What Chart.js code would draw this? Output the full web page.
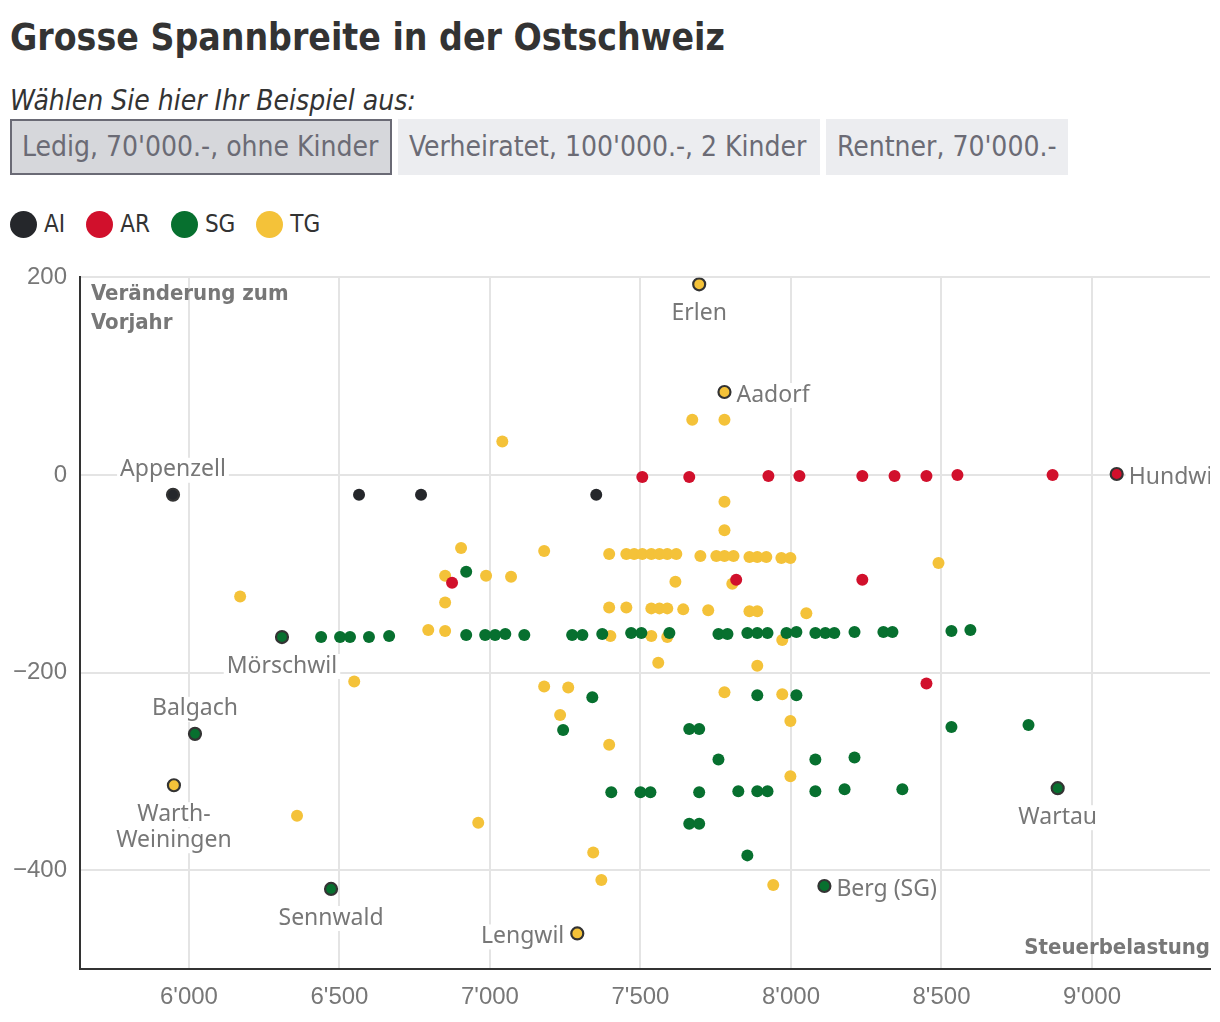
<!DOCTYPE html>
<html>
<head>
<meta charset="utf-8">
<script src="https://cdn.jsdelivr.net/npm/chart.js@4.4.1/dist/chart.umd.min.js"></script>
<style>
  body { margin: 0; background: #fff; width: 1220px; height: 1022px; overflow: hidden; position: relative;
         font-family: "Liberation Sans Narrow", "DejaVu Sans Condensed", sans-serif; }
  h1 { position: absolute; left: 10px; top: 14px; margin: 0; font-size: 37px; line-height: 48px; color: #333; font-weight: bold; }
  .sub { position: absolute; left: 10px; top: 84px; font-size: 28px; line-height: 34px; font-style: italic; color: #333; }
  .btns { position: absolute; left: 10px; top: 119px; }
  .btn { position: absolute; top: 0; height: 56px; box-sizing: border-box; padding-left: 11px; background: #ecedf0;
         color: #6b6b75; font-size: 28px; line-height: 56px; white-space: nowrap; }
  .btn.sel { background: #d6d7db; border: 2px solid #6a6a75; line-height: 52px; padding-left: 10px; }
  #legend { position: absolute; left: 10px; top: 210px; display: flex; align-items: center; }
  .item { display: flex; align-items: center; margin-right: 21px; font-size: 24px; color: #333; }
  .dot { width: 27px; height: 27px; border-radius: 50%; margin-right: 7px; }
  .box { position: absolute; left: 0; top: 250px; width: 1220px; height: 772px; }
</style>
</head>
<body>
<h1>Grosse Spannbreite in der Ostschweiz</h1>
<div class="sub">Wählen Sie hier Ihr Beispiel aus:</div>
<div class="btns">
  <div class="btn sel" style="left:0;width:382px">Ledig, 70'000.-, ohne Kinder</div>
  <div class="btn" style="left:388px;width:422px">Verheiratet, 100'000.-, 2 Kinder</div>
  <div class="btn" style="left:816px;width:242px">Rentner, 70'000.-</div>
</div>
<div id="legend"></div>
<div class="box"><canvas id="chart"></canvas></div>
<script>
// Gemeinden je Kanton: Steuerbelastung (x) und Veränderung zum Vorjahr (y)
// die ersten Punkte jeder Reihe sind beschriftet (Namen in *Names)
var cantons = ['AI', 'AR', 'SG', 'TG'];
var colors = ['#25272b', '#d1102c', '#07702f', '#f4c239'];

var aiX = [5947, 6565, 6771, 7353];
var aiY = [-20, -20, -20, -20];
var aiNames = ['Appenzell'];

var arX = [9082, 7506, 7662, 7925, 8028, 8237, 8344, 8450, 8553, 8869, 6874, 7818, 8237, 8450];
var arY = [1, -2, -2, -1, -1, -1, -1, -1, 0, 0, -109, -106, -106, -211];
var arNames = ['Hundwil'];

var sgX = [6309, 6020, 6472, 8111, 8886,
  6439, 6502, 6535, 6598, 6665, 6921, 6984, 7017, 7051, 7114, 7273, 7307, 7373, 7469, 7503, 7596,
  7759, 7789, 7855, 7888, 7922, 7985, 8018, 8081, 8114, 8144, 8211, 8307, 8337, 8533, 8596,
  6921, 7340, 7243, 7662, 7695, 7759, 8081, 8211, 7888, 8018, 8533, 8789,
  7403, 7500, 7533, 7695, 7825, 7888, 7922, 8081, 8178, 8370, 7662, 7695, 7855];
var sgY = [-164, -262, -419, -416, -317,
  -164, -164, -164, -164, -163, -162, -162, -162, -161, -162, -162, -162, -161, -160, -160, -160,
  -161, -161, -160, -160, -160, -160, -159, -160, -160, -160, -159, -159, -159, -158, -157,
  -98, -225, -258, -257, -257, -288, -288, -286, -223, -223, -255, -253,
  -321, -321, -321, -321, -320, -320, -320, -320, -318, -318, -353, -353, -385];
var sgNames = ['Mörschwil', 'Balgach', 'Sennwald', 'Berg (SG)', 'Wartau'];

var tgX = [7695, 7779, 7290, 5950,
  7672, 7779, 7041, 7779, 7779, 6904, 7180,
  7396, 7453, 7479, 7506, 7536, 7563, 7589, 7619, 7699, 7752, 7779, 7809, 7862, 7888, 7918, 7968, 7998,
  8490, 6851, 6987, 7070, 7616, 7805, 6851, 6170, 6795, 6851,
  7396, 7453, 7536, 7563, 7589, 7642, 7725, 7862, 7888, 8051,
  7400, 7536, 7589, 7971, 7559, 7888, 6549, 7180, 7260, 7233, 7396, 7779, 7971, 7998, 7998,
  6961, 7343, 7370, 7941, 6359];
var tgY = [193, 84, -464, -314,
  56, 56, 34, -27, -56, -74, -77,
  -80, -80, -80, -80, -80, -80, -80, -80, -82, -82, -82, -82, -83, -83, -83, -84, -84,
  -89, -102, -102, -103, -108, -110, -129, -123, -157, -158,
  -134, -134, -135, -135, -135, -136, -137, -138, -138, -140,
  -163, -163, -164, -167, -190, -193, -209, -214, -215, -243, -273, -220, -222, -249, -305,
  -352, -382, -410, -415, -345];
var tgNames = ['Erlen', 'Aadorf', 'Lengwil', 'Warth-\nWeiningen'];

var xTicks = [6000, 6500, 7000, 7500, 8000, 8500, 9000];
var yTicks = [200, 0, -200, -400];

// wo die Beschriftung steht
var labelPos = {
  'Appenzell': 'above', 'Balgach': 'above', 'Erlen': 'below', 'Mörschwil': 'below', 'Sennwald': 'below',
  'Wartau': 'below', 'Warth-\nWeiningen': 'below', 'Aadorf': 'right', 'Hundwil': 'right', 'Berg (SG)': 'right',
  'Lengwil': 'left'
};

var series = [[aiX, aiY, aiNames], [arX, arY, arNames], [sgX, sgY, sgNames], [tgX, tgY, tgNames]];

var legend = document.getElementById('legend');
cantons.forEach(function (c, i) {
  legend.innerHTML += '<div class="item"><div class="dot" style="background:' + colors[i] + '"></div>' + c + '</div>';
});

var datasets = series.map(function (s, i) {
  return {
    label: cantons[i],
    data: s[0].map(function (x, j) { return { x: x, y: s[1][j], name: s[2][j] || '' }; }),
    backgroundColor: colors[i],
    pointRadius: 6,
    pointBorderWidth: function (ctx) { return ctx.dataIndex < s[2].length ? 2.2 : 0; },
    pointBorderColor: function (ctx) { return ctx.dataIndex < s[2].length ? '#333' : colors[i]; }
  };
});

var fmt = function (v) { return String(Math.abs(v)).replace(/\B(?=(\d{3})+(?!\d))/g, "'"); };

var pointLabels = {
  id: 'pointLabels',
  afterDatasetsDraw: function (chart) {
    var c = chart.ctx, a = chart.chartArea;
    c.save();
    c.beginPath();
    c.rect(a.left, 0, a.right - a.left, chart.height);
    c.clip();
    c.font = '23px "Noto Sans"';
    c.textBaseline = 'middle';
    chart.data.datasets.forEach(function (ds, i) {
      var meta = chart.getDatasetMeta(i);
      ds.data.forEach(function (d, j) {
        if (!d.name) return;
        var p = meta.data[j];
        var lines = d.name.split('\n');
        var pos = labelPos[d.name];
        var lh = 26;
        lines.forEach(function (t, k) {
          var w = c.measureText(t).width;
          var x, y;
          if (pos === 'above') { x = p.x - w / 2; y = p.y - 25 - (lines.length - 1 - k) * lh; }
          else if (pos === 'below') { x = p.x - w / 2; y = p.y + 29 + k * lh; }
          else if (pos === 'right') { x = p.x + 12; y = p.y + 3; }
          else { x = p.x - 13 - w; y = p.y + 3; }
          c.fillStyle = '#fff';
          c.fillRect(x - 3, y - 12, w + 6, 25);
          c.fillStyle = '#777';
          c.textAlign = 'left';
          c.fillText(t, x, y);
        });
      });
    });
    c.restore();
  }
};

var axisTitles = {
  id: 'axisTitles',
  afterDraw: function (chart) {
    var c = chart.ctx, a = chart.chartArea;
    c.save();
    c.font = 'bold 22px "Liberation Sans Narrow", "DejaVu Sans Condensed", sans-serif';
    c.fillStyle = '#777';
    c.textBaseline = 'middle';
    c.textAlign = 'left';
    c.fillText('Veränderung zum', a.left + 11, a.top + 17);
    c.fillText('Vorjahr', a.left + 11, a.top + 46);
    c.textAlign = 'right';
    c.fillText('Steuerbelastung', a.right, a.bottom - 21);
    c.restore();
  }
};

new Chart(document.getElementById('chart'), {
  type: 'scatter',
  data: { datasets: datasets },
  options: {
    responsive: true,
    maintainAspectRatio: false,
    animation: false,
    layout: { padding: { top: 26, right: 10, left: 0, bottom: 0 } },
    plugins: { legend: { display: false }, tooltip: { enabled: false } },
    scales: {
      x: {
        min: 5638, max: 9392,
        afterBuildTicks: function (s) { s.ticks = xTicks.map(function (v) { return { value: v }; }); },
        afterFit: function (s) { s.height = 53; },
        grid: { color: '#e4e4e4', lineWidth: 2, drawTicks: false },
        border: { color: '#333', width: 2 },
        ticks: { padding: 14, color: '#777', font: { family: 'Liberation Sans', size: 24 },
                 callback: function (v) { return fmt(v); } }
      },
      y: {
        min: -500, max: 200,
        afterBuildTicks: function (s) { s.ticks = yTicks.map(function (v) { return { value: v }; }); },
        afterFit: function (s) { s.width = 80; },
        grid: { color: '#e4e4e4', lineWidth: 2, drawTicks: false },
        border: { color: '#333', width: 2 },
        ticks: { padding: 13, color: '#777', font: { family: 'Liberation Sans', size: 24 },
                 callback: function (v) { return (v < 0 ? '\u2212' : '') + fmt(v); } }
      }
    }
  },
  plugins: [pointLabels, axisTitles]
});
</script>
</body>
</html>
